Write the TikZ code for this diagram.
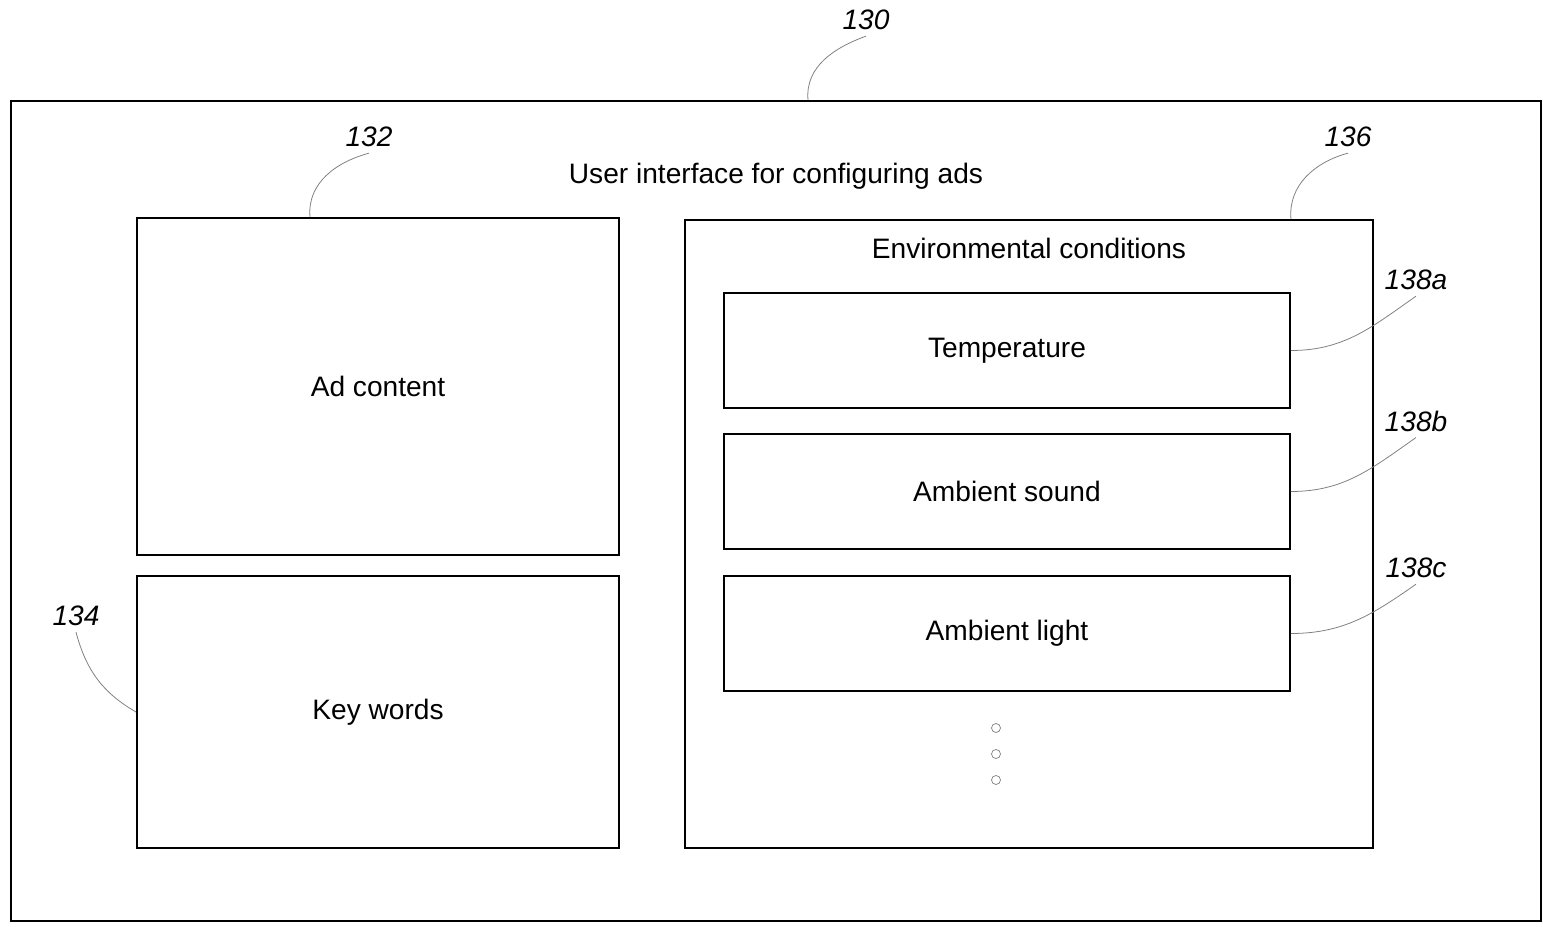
\documentclass[tikz,border=0pt]{standalone}
\usepackage{fontspec}
\setmainfont{Liberation Sans}
\usetikzlibrary{positioning}

\begin{document}
\begin{tikzpicture}[font=\fontsize{16}{19}\selectfont,
    box/.style={rectangle,draw=black,line width=1.1pt,inner sep=0pt},
    ref/.style={font=\fontsize{16}{19}\selectfont\itshape},
    leader/.style={draw=gray,line width=0.45pt}]
    \useasboundingbox (0,0) rectangle (30.86,18.52);

    % outer frame
    \node (ui) [box,minimum width=30.6cm,minimum height=16.4cm] at (15.52,8.30) {};
    \node (title) at (15.52,15.00) {User interface for configuring ads};
    \node (r130) [ref] at (17.32,18.12) {130};
    \draw[leader] ([xshift=0.64cm]ui.north) to[out=95,in=200] (r130.south);

    % left column
    \node (ad) [box,minimum width=9.64cm,minimum height=6.74cm] at (7.56,10.79) {Ad content};
    \node (kw) [box,minimum width=9.64cm,minimum height=5.44cm] at (7.56,4.28) {Key words};
    \node (r132) [ref] at (7.38,15.78) {132};
    \draw[leader] ([xshift=-1.36cm]ad.north) to[out=95,in=195] (r132.south);
    \node (r134) [ref] at (1.52,6.20) {134};
    \draw[leader] (kw.west) to[out=150,in=-75] (r134.south);

    % environmental conditions
    \node (env) [box,minimum width=13.76cm,minimum height=12.56cm] at (20.58,7.84) {};
    \node (envt) at (20.58,13.56) {Environmental conditions};
    \foreach \i/\y/\t/\ry in {a/11.51/Temperature/12.92,b/8.69/Ambient sound/10.10,c/5.85/Ambient light/7.16} {
        \node (c\i) [box,minimum width=11.32cm,minimum height=2.3cm] at (20.14,\y) {\t};
        \node (r\i) [ref] at (28.32,\ry) {138\i};
        \draw[leader] (c\i.east) to[out=0,in=215] (r\i.south);
    }
    \node (r136) [ref] at (26.96,15.78) {136};
    \draw[leader] (env.north -| ca.east) to[out=95,in=195] (r136.south);

    % more conditions
    \foreach \y in {3.96,3.44,2.92}
    \draw[gray,line width=0.4pt] (19.92,\y) circle (0.09);
\end{tikzpicture}
\end{document}
